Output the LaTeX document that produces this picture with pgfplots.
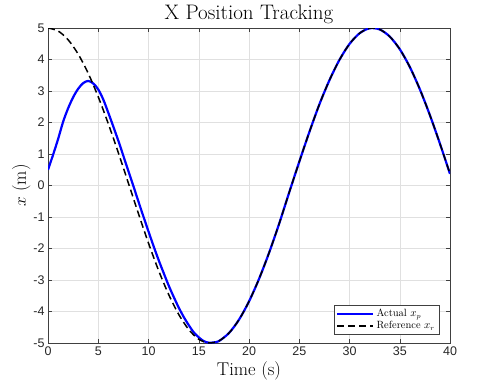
\documentclass[border=0pt]{standalone}
\usepackage{fontspec}
\usepackage{pgfplots}
\pgfplotsset{compat=1.18}
\usetikzlibrary{calc}
\newfontfamily\tickfont{Liberation Sans}

\definecolor{gridgray}{gray}{0.88}
\definecolor{framegray}{gray}{0.25}

\begin{document}
\begin{tikzpicture}
\begin{axis}[
name=ax,
scale only axis,
width=402pt, height=315pt,
xmin=0, xmax=40, ymin=-5, ymax=5,
xtick={0,5,...,40}, ytick={-5,-4,...,5},
grid=major,
major grid style={gridgray, line width=0.5pt},
axis line style={framegray, line width=0.6pt},
tick style={framegray, line width=0.5pt},
tick align=inside, major tick length=4pt,
tick label style={font=\tickfont\fontsize{12.5}{14}\selectfont, text=black!85},
/pgf/number format/assume math mode=true,
title={X Position Tracking},
title style={font=\fontsize{21}{23}\selectfont, yshift=-5pt},
xlabel={Time (s)}, ylabel={$x$ (m)},
xlabel style={font=\fontsize{18.5}{20}\selectfont, yshift=1pt},
ylabel style={font=\fontsize{18.5}{20}\selectfont, yshift=-4pt},
legend style={at={(0.973,0.027)}, anchor=south east,
  font=\fontsize{10.5}{12}\selectfont, draw=framegray, line width=0.5pt,
  inner sep=2pt, row sep=-1pt},
legend cell align=left,
legend image code/.code={\draw[#1] (0pt,0pt) -- (36pt,0pt);},
]
% actual position x_p
\addplot[blue, line width=2.2pt, smooth] coordinates {
(0,0.50) (0.5,0.97) (1,1.47) (1.5,2.02) (2,2.45) (2.5,2.80) (3,3.07)
(3.5,3.25) (4,3.32) (4.5,3.24) (5,3.05) (5.5,2.73) (6,2.31) (6.5,1.87)
(7,1.42) (7.5,0.94) (8,0.46) (8.5,-0.02) (9,-0.51) (9.5,-0.99) (10,-1.46)
(10.5,-1.92) (11,-2.36) (11.5,-2.77) (12,-3.17) (12.5,-3.53) (13,-3.87)
(13.5,-4.17) (14,-4.43) (14.5,-4.66) (15,-4.82) (15.5,-4.94) (16,-4.99)
(16.5,-4.98) (17,-4.94) (18,-4.686)
(19,-4.262) (20,-3.680) (21,-2.963) (22,-2.133) (23,-1.212) (24,-0.219)
(25,0.751) (26,1.693) (27,2.573) (28,3.340) (29,3.989) (30,4.493)
(31,4.832) (32,4.991) (33,4.954) (34,4.730) (35,4.328) (36,3.763)
(37,3.054) (38,2.233) (39,1.327) (40,0.369)
};
\addlegendentry{Actual $x_p$}
% reference x_r
\addplot[black, line width=1.5pt, dash pattern=on 7pt off 4pt, smooth] coordinates {
(0,5.000) (1,4.906) (2,4.627) (3,4.173) (4,3.562) (5,2.814) (6,1.961)
(7,1.038) (8,0.074) (9,-0.893) (10,-1.830) (11,-2.694) (12,-3.455)
(13,-4.089) (14,-4.570) (15,-4.881) (16,-4.996) (17,-4.933) (18,-4.686)
(19,-4.262) (20,-3.680) (21,-2.963) (22,-2.133) (23,-1.212) (24,-0.219)
(25,0.751) (26,1.693) (27,2.573) (28,3.340) (29,3.989) (30,4.493)
(31,4.832) (32,4.991) (33,4.954) (34,4.730) (35,4.328) (36,3.763)
(37,3.054) (38,2.233) (39,1.327) (40,0.369)
};
\addlegendentry{Reference $x_r$}
\end{axis}
\path ($(ax.south west)+(-48pt,-47pt)$) rectangle ($(ax.north east)+(30pt,28pt)$);
\end{tikzpicture}
\end{document}
